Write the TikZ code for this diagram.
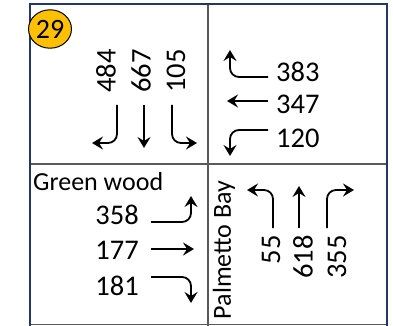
\documentclass[tikz,border=0pt]{standalone}
\usepackage{fontspec}
\setmainfont{Carlito}
\usetikzlibrary{arrows.meta,shapes.geometric}
\definecolor{navy}{HTML}{1F3864}
\definecolor{gridgrey}{HTML}{595959}
\definecolor{badgefill}{HTML}{FFC000}
\begin{document}
\begin{tikzpicture}[x=1pt,y=-1pt,
  num/.style={font=\fontsize{28.5}{30}\selectfont, inner sep=0pt},
  lbl/.style={font=\fontsize{26}{28}\selectfont, inner sep=0pt},
  mv/.style={line width=1.8pt, -{Stealth[length=11pt,width=13pt,inset=4pt]}, rounded corners=9pt},
  framebox/.style={navy, line width=2pt},
  divider/.style={gridgrey, line width=1.5pt}]
\useasboundingbox (0,0) rectangle (393,326);
% frame and dividers
\coordinate (fTL) at (29.5,4.5);
\coordinate (fTR) at (386.5,4.5);
\coordinate (fBL) at (29.5,327);
\coordinate (fBR) at (386.5,327);
\coordinate (bBL) at (29.5,324.5);
\coordinate (bBR) at (386.5,324.5);
\coordinate (vT) at (208,4.5);
\coordinate (vB) at (208,326);
\coordinate (hL) at (29.5,164);
\coordinate (hR) at (386.5,164);
\draw[divider] (bBL) -- (bBR);
\draw[divider] (vT) -- (vB);
\draw[divider] (hL) -- (hR);
\draw[framebox] (fBL) -- (fTL) -- (fTR) -- (fBR);
% badge
\node[ellipse, draw=black, line width=1pt, fill=badgefill, inner xsep=1pt,
  inner ysep=4.5pt, font=\fontsize{28}{30}\selectfont] (badge) at (50,29) {29};
% top-left (southbound)
\node[num, rotate=90] (n484) at (106,71) {484};
\node[num, rotate=90] (n667) at (141,71) {667};
\node[num, rotate=90] (n105) at (176,71) {105};
\coordinate (a1s) at (117,105); \coordinate (a1m) at (117,143); \coordinate (a1e) at (92,143);
\coordinate (a2s) at (144,105); \coordinate (a2e) at (144,148);
\coordinate (a3s) at (172,105); \coordinate (a3m) at (172,143); \coordinate (a3e) at (197,143);
\draw[mv] (a1s) -- (a1m) -- (a1e);
\draw[mv] (a2s) -- (a2e);
\draw[mv] (a3s) -- (a3m) -- (a3e);
% top-right (westbound)
\node[num, anchor=west] (n383) at (276,72) {383};
\node[num, anchor=west] (n347) at (276,104) {347};
\node[num, anchor=west] (n120) at (276,138) {120};
\coordinate (b1s) at (268,77); \coordinate (b1m) at (230,77); \coordinate (b1e) at (230,50);
\coordinate (b2s) at (268,101); \coordinate (b2e) at (227,101);
\coordinate (b3s) at (268,130); \coordinate (b3m) at (230,130); \coordinate (b3e) at (230,156);
\draw[mv] (b1s) -- (b1m) -- (b1e);
\draw[mv] (b2s) -- (b2e);
\draw[mv] (b3s) -- (b3m) -- (b3e);
% bottom-left (eastbound)
\node[lbl, anchor=west] (green) at (33,182) {Green wood};
\node[num, anchor=east] (n358) at (139,215) {358};
\node[num, anchor=east] (n177) at (139,250) {177};
\node[num, anchor=east] (n181) at (139,286) {181};
\coordinate (c1s) at (151,222); \coordinate (c1m) at (191,222); \coordinate (c1e) at (191,196);
\coordinate (c2s) at (151,249); \coordinate (c2e) at (194,249);
\coordinate (c3s) at (151,277); \coordinate (c3m) at (191,277); \coordinate (c3e) at (191,303);
\draw[mv] (c1s) -- (c1m) -- (c1e);
\draw[mv] (c2s) -- (c2e);
\draw[mv] (c3s) -- (c3m) -- (c3e);
% bottom-right (northbound)
\node[lbl, rotate=90] (palmetto) at (224,250) {Palmetto Bay};
\node[num, rotate=90, anchor=east] (n55) at (271,235) {55};
\node[num, rotate=90, anchor=east] (n618) at (303,235) {618};
\node[num, rotate=90, anchor=east] (n355) at (337,235) {355};
\coordinate (d1s) at (273,228); \coordinate (d1m) at (273,190); \coordinate (d1e) at (247,190);
\coordinate (d2s) at (299,228); \coordinate (d2e) at (299,186);
\coordinate (d3s) at (327,228); \coordinate (d3m) at (327,190); \coordinate (d3e) at (354,190);
\draw[mv] (d1s) -- (d1m) -- (d1e);
\draw[mv] (d2s) -- (d2e);
\draw[mv] (d3s) -- (d3m) -- (d3e);
\end{tikzpicture}
\end{document}
